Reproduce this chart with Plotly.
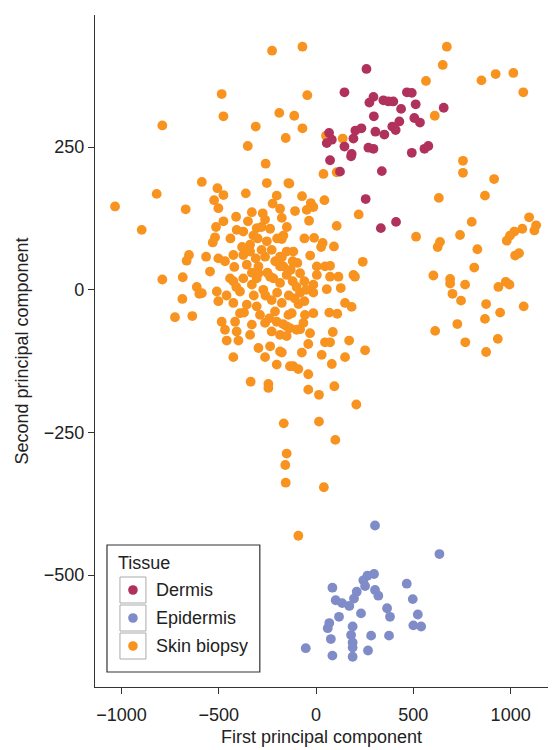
import plotly.graph_objects as go

# ---------------- data ----------------
skin_x = [-485, -476, -790, -351, -226, -70, -45, -189, -112, -310, -70, -156, 51, 137,
          672, 651, 565, 850, 923, 1014, 1065, 610,
          38, 106, -137, -72, -27, -14, -48, 43, -108, -185, -176, -36, 219, 106, -168, -10, 34, 26, 92,
          -151, -117, -185, -96, 4, 46, 72, 115, 240, 192, -168,
          -259, -587, -253, -142, -507, -476, -524, -502, -361, -202, -223, -330, -274, -411, -262, -476,
          -514, -408, -374, -305, -236, -322, -519, -531, -253, -176, -339, -339, -228, -565, -502, -468,
          -425, -374, -262, -176, -356, -296, -185, -545, -442, -374, -305, -219,
          -819, -1033, -670, -896, -653, -665, -790, -685, -613, -600, -687, -725, -636,
          -587, -510, -502, -425, -391, -330, -296, -271, -236, -185, -151, -425, -356, -305, -228, -176,
          -391, -288, -211, -142, -485, -416, -330, -262, -202, -468, -408, -339, -228, -185, -459, -399,
          -134, -296, -236, -185, -262, -425, -202, -134, -336, -245, -245,
          -82, 4, 72, 200, -14, -82, -14, 55, 127, 149, 183, -125, -57, -14, 68, 109, -151, -65, -82, -31,
          86, -151, -40, 46, 72, 170, 252, -176, -73, 29, 149, 81, -117, -91, -40, -40, 15, 94,
          -120, -100, -130, -60, -110, -50, -310, -210, -280,
          -440, -380, -300, -280, -350, -420, -330, -250, -200, -150, -120, -60, -30, -90, -260, -320,
          -460, -370, -240, -170, -100, -410, -200, -140, -60,
          207, -166, 15, 99, -151, -158, -156, 40, -91,
          755, 755, 915, 631, 868, 1095, 1131, 1122, 1060, 1019, 997, 980, 800, 740, 514, 637, 625, 829,
          1043, 1023, 813, 603, 689, 689, 766, 937, 975, 994, 701, 745, 874, 1067, 946, 868, 726, 612,
          767, 934, 874]
skin_y = [343, 304, 288, 252, 419, 426, 341, 310, 305, 286, 283, 266, 270, 265,
          426, 394, 366, 367, 378, 380, 346, 305,
          203, 206, 186, 164, 152, 145, 140, 157, 138, 142, 126, 121, 132, 112, 95, 91, 82, 75, 76,
          67, 67, 58, 47, 41, 41, 42, 23, 49, 26, 41,
          221, 189, 187, 187, 178, 166, 157, 143, 169, 165, 151, 136, 134, 128, 123, 120,
          110, 105, 102, 108, 107, 95, 92, 83, 85, 89, 79, 67, 70, 58, 55, 50,
          61, 61, 58, 57, 44, 41, 41, 32, 20, 20, 20, 20,
          168, 146, 141, 105, 61, 51, 18, 22, 5, -7, -16, -48, -46,
          -6, -3, -20, 15, -3, 9, 29, 0, 23, 12, 26, -23, -26, -29, -18, -23,
          -41, -44, -38, -44, -56, -56, -61, -58, -56, -70, -73, -79, -73, -79, -89, -89,
          -67, -102, -99, -108, -118, -118, -131, -134, -161, -165, -172,
          29, 26, 23, 23, 9, -5, -5, 1, 3, -23, -30, -41, -44, -41, -40, -42, -64, -58, -69, -76,
          -74, -81, -95, -92, -92, -89, -106, -110, -110, -114, -118, -130, -134, -139, -148, -175, -184, -169,
          15, 5, 35, 15, -15, 0, 55, 50, 70,
          90, 75, 90, 110, 120, 40, 30, 30, 90, 110, 50, 90, 60, -25, -10, -10,
          -10, -40, -50, -60, -70, 5, -5, -10, -20,
          -201, -234, -231, -263, -287, -307, -338, -346, -431,
          226, 205, 194, 161, 165, 127, 113, 104, 107, 102, 95, 86, 119, 96, 93, 84, 75, 71,
          64, 60, 39, 25, 19, 11, 9, 5, 14, 9, -7, -19, -25, -29, -40, -51, -60, -72,
          -92, -86, -109]

dermis_x = [259, 146, 295, 274, 346, 372, 397, 467, 492, 437, 297, 428, 392, 409, 305, 351, 233, 202,
            192, 67, 81, 55, 146, 269, 295, 183, 512, 656, 505, 534, 577, 557, 492, 72, 180, 123, 255,
            333, 338, 411]
dermis_y = [387, 346, 338, 328, 332, 330, 330, 346, 345, 317, 304, 295, 286, 280, 277, 272, 283, 279,
            265, 275, 263, 257, 251, 249, 247, 238, 325, 319, 301, 293, 252, 247, 240, 227, 234, 207, 159,
            108, 208, 119]

epi_x = [303, 634, 298, 264, 243, 252, 466, 84, 303, 320, 209, 195, 171, 101, 134, 497, 365, 380, 523,
         231, 118, 500, 540, 68, 60, 188, 180, 283, 375, 76, 188, 188, -53, 84, 188, 267]
epi_y = [-413, -463, -498, -501, -509, -519, -515, -522, -526, -536, -529, -541, -554, -544, -549, -542,
         -558, -573, -569, -567, -573, -588, -590, -584, -593, -590, -605, -606, -606, -612, -618, -627,
         -628, -641, -643, -632]

groups = ["Dermis", "Epidermis", "Skin biopsy"]
colors = {"Dermis": "#b0325c", "Epidermis": "#7f8cc8", "Skin biopsy": "#f7931e"}
x_ticks = [-1000, -500, 0, 500, 1000]
y_ticks = [-500, -250, 0, 250]

# ---------------- figure ----------------
OFF = 8  # page body margin
W, H = 548, 742
ML, MT = 95 - OFF, 15 - OFF
MR = W - (548.5 - OFF)
MB = H - (687 - OFF)
PW, PH = W - ML - MR, H - MT - MB
FS = 18

fig = go.Figure()
MS = 9.8
fig.add_trace(go.Scatter(x=skin_x, y=skin_y, mode="markers", name="Skin biopsy",
                         marker=dict(size=MS, color=colors["Skin biopsy"], line=dict(width=0))))
fig.add_trace(go.Scatter(x=epi_x, y=epi_y, mode="markers", name="Epidermis",
                         marker=dict(size=MS, color=colors["Epidermis"], line=dict(width=0))))
fig.add_trace(go.Scatter(x=dermis_x, y=dermis_y, mode="markers", name="Dermis",
                         marker=dict(size=MS, color=colors["Dermis"], line=dict(width=0))))

axis_common = dict(showgrid=False, zeroline=False, showline=True, linecolor="#333333", linewidth=1.2,
                   ticks="outside", ticklen=6, tickwidth=1.2, tickcolor="#333333",
                   tickfont=dict(size=FS, color="#222222", family="Liberation Sans"),
                   mirror=False)

fig.update_layout(
    width=W, height=H,
    margin=dict(l=ML, r=MR, t=MT, b=MB),
    plot_bgcolor="white", paper_bgcolor="white",
    showlegend=False,
    font=dict(family="Liberation Sans", size=FS, color="#222222"),
    xaxis=dict(range=[-1136, 1192], tickvals=x_ticks, ticklabelstandoff=5,
               title=dict(text="First principal component", font=dict(size=FS), standoff=6),
               **axis_common),
    yaxis=dict(range=[-696, 481.5], tickvals=y_ticks,
               title=dict(text="Second principal component", font=dict(size=FS), standoff=10),
               **axis_common),
)

# ---------------- manual legend (screen pixel positions -> paper) ----------------
def px(xs):
    return (xs - OFF - ML) / PW

def py(ys):
    return (H - MB - (ys - OFF)) / PH

shapes = []
annotations = []
shapes.append(dict(type="rect", xref="paper", yref="paper", x0=px(107), x1=px(260), y0=py(672), y1=py(545),
                   line=dict(color="#333333", width=1.2), fillcolor="white", layer="above"))
annotations.append(dict(xref="paper", yref="paper", x=px(116), y=py(563), text="Tissue", showarrow=False,
                        xanchor="left", yanchor="middle", font=dict(size=FS, color="#222222")))
item_y = [590, 618, 646]
for g, yc in zip(groups, item_y):
    shapes.append(dict(type="rect", xref="paper", yref="paper", x0=px(120), x1=px(146),
                       y0=py(yc + 13), y1=py(yc - 13), line=dict(color="#aaaaaa", width=1),
                       fillcolor="white", layer="above"))
    r = 4.8
    shapes.append(dict(type="circle", xref="paper", yref="paper", x0=px(133 - r), x1=px(133 + r),
                       y0=py(yc + r), y1=py(yc - r), line=dict(width=0), fillcolor=colors[g], layer="above"))
    annotations.append(dict(xref="paper", yref="paper", x=px(154), y=py(yc), text=g, showarrow=False,
                            xanchor="left", yanchor="middle", font=dict(size=FS, color="#222222")))

fig.update_layout(shapes=shapes, annotations=annotations)

fig.write_html("out.html")
